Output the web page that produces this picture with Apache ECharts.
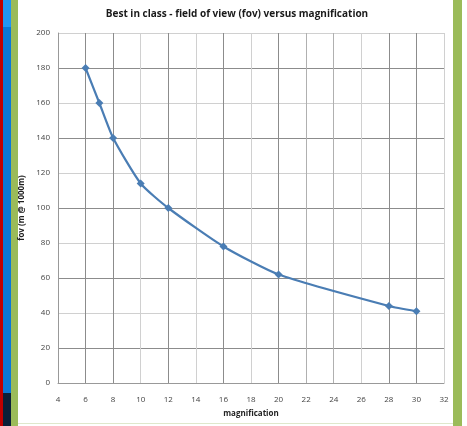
<!DOCTYPE html>
<html><head><meta charset="utf-8">
<script src="https://cdn.jsdelivr.net/npm/echarts@6/dist/echarts.min.js"></script>
<style>html,body{margin:0;padding:0;background:#fff;}#c{width:467px;height:426px;}</style>
</head><body><div id="c"></div>
<script>
const magnification = [6, 7, 8, 10, 12, 16, 20, 28, 30];
const fov = [180, 160, 140, 114, 100, 78, 62, 44, 41];
const titleText = 'Best in class - field of view (fov) versus magnification';
const xName = 'magnification';
const yName = 'fov (m @ 1000m)';

const chart = echarts.init(document.getElementById('c'), null, {renderer: 'canvas'});
const dark = '#8c8c8c', light = '#d0d0d0', mid = '#b0b0b0';
chart.setOption({
  animation: false,
  backgroundColor: '#fff',
  title: {text: titleText, left: 232, top: 4, textAlign: 'center',
    textStyle: {fontFamily: 'Open Sans', fontSize: 10, fontWeight: 'bold', color: '#1a1a1a'}},
  grid: {left: 58, right: 23, top: 33, bottom: 43},
  xAxis: {type: 'value', min: 4, max: 32, interval: 2,
    name: xName, nameLocation: 'middle', nameGap: 27,
    nameTextStyle: {fontFamily: 'Open Sans', fontSize: 8, fontWeight: 'bold', color: '#222'},
    axisLine: {lineStyle: {color: '#999'}},
    axisTick: {show: false},
    axisLabel: {fontFamily: 'Open Sans', fontSize: 8, color: '#444', margin: 13},
    splitLine: {lineStyle: {width: 1, color: [mid, dark, dark, light, dark, light, dark, light, dark, mid, mid, light, dark, dark, light]}}
  },
  yAxis: {type: 'value', min: 0, max: 200, interval: 20,
    name: yName, nameLocation: 'middle', nameGap: 30, nameRotate: 90,
    nameTextStyle: {fontFamily: 'Open Sans', fontSize: 8, fontWeight: 'bold', color: '#222'},
    axisLine: {show: true, lineStyle: {color: '#999'}},
    axisTick: {show: false},
    axisLabel: {fontFamily: 'Open Sans', fontSize: 8, color: '#444', margin: 8},
    splitLine: {lineStyle: {width: 1, color: [light, dark]}}
  },
  graphic: [
    {type: 'rect', shape: {x: 0, y: 0, width: 3, height: 426}, style: {fill: '#c00000'}},
    {type: 'rect', shape: {x: 3, y: 0, width: 8, height: 27}, style: {fill: '#2196f3'}},
    {type: 'rect', shape: {x: 3, y: 27, width: 8, height: 366}, style: {fill: '#0a78d6'}},
    {type: 'rect', shape: {x: 3, y: 393, width: 8, height: 33}, style: {fill: '#0b1f38'}},
    {type: 'rect', shape: {x: 11, y: 0, width: 7, height: 426}, style: {fill: '#9bbb59'}},
    {type: 'rect', shape: {x: 453, y: 0, width: 9, height: 426}, style: {fill: '#9bbb59'}},
    {type: 'rect', shape: {x: 18, y: 423, width: 435, height: 1}, style: {fill: '#dfe8cc'}}
  ],
  series: [{
    type: 'line', smooth: 0.2,
    data: magnification.map((m, i) => [m, fov[i]]),
    symbol: 'diamond', symbolSize: 8,
    lineStyle: {color: '#4a7db4', width: 2.2},
    itemStyle: {color: '#4a7db4'}
  }]
});
</script></body></html>
